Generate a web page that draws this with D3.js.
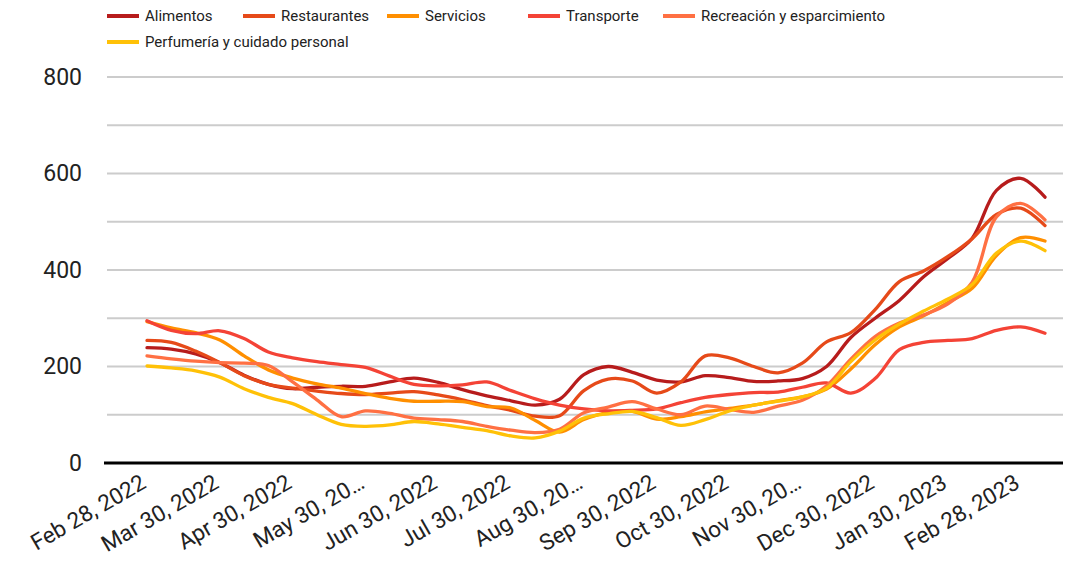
<!DOCTYPE html>
<html>
<head>
<meta charset="utf-8">
<script src="https://cdn.jsdelivr.net/npm/d3@7"></script>
<style>
  html, body { margin: 0; padding: 0; background: #fff; }
  svg { display: block; font-family: Roboto, "Noto Sans", sans-serif; }
</style>
</head>
<body>
<svg id="viz" width="1074" height="561"></svg>
<script>
// Data, three readings a month from Feb 28, 2022 to early Mar 2023
const tickLabels = ['Feb 28, 2022', 'Mar 30, 2022', 'Apr 30, 2022', 'May 30, 20…', 'Jun 30, 2022',
  'Jul 30, 2022', 'Aug 30, 20…', 'Sep 30, 2022', 'Oct 30, 2022', 'Nov 30, 20…', 'Dec 30, 2022',
  'Jan 30, 2023', 'Feb 28, 2023'];

const seriesNames = ['Alimentos', 'Restaurantes', 'Servicios', 'Transporte',
  'Recreación y esparcimiento', 'Perfumería y cuidado personal'];

const alimentos = [239, 236, 226, 208, 182, 163, 154, 157, 159, 159, 168, 176, 167, 152, 139, 129, 120, 132, 183,
  200, 188, 172, 168, 181, 177, 169, 170, 175, 200, 260, 300, 337, 386, 424, 466, 565, 590, 551];
const restaurantes = [254, 250, 232, 208, 181, 163, 155, 149, 144, 142, 145, 148, 141, 131, 119, 109, 97, 98, 150,
  174, 170, 145, 168, 222, 218, 200, 187, 207, 251, 270, 318, 376, 398, 428, 465, 515, 528, 492];
const servicios = [293, 280, 270, 255, 222, 193, 176, 164, 155, 144, 134, 128, 128, 127, 117, 114, 88, 64, 90,
  105, 107, 91, 96, 106, 113, 120, 129, 137, 153, 195, 245, 282, 305, 333, 362, 430, 467, 460];
const transporte = [295, 275, 268, 274, 258, 230, 218, 210, 204, 198, 180, 163, 160, 162, 168, 150, 133, 120, 112,
  108, 109, 112, 125, 136, 142, 146, 147, 157, 166, 145, 175, 235, 250, 254, 258, 275, 282, 269];
const recreacion = [222, 216, 211, 208, 207, 202, 168, 131, 96, 108, 103, 93, 90, 86, 76, 68, 63, 70, 104,
  116, 127, 112, 100, 118, 111, 105, 118, 130, 160, 215, 262, 290, 307, 330, 375, 510, 538, 504];
const perfumeria = [201, 197, 191, 178, 154, 136, 123, 100, 80, 76, 79, 86, 81, 74, 67, 56, 52, 66, 93,
  102, 107, 94, 78, 90, 108, 120, 128, 137, 155, 210, 255, 288, 315, 340, 370, 435, 460, 440];

const yTicks = [0, 200, 400, 600, 800];

(() => {
  const svg = d3.select('#viz');

  const colors = ['#b71c1c', '#e64a19', '#ff8f00', '#f44336', '#ff7043', '#ffc107'];
  const allSeries = [alimentos, restaurantes, servicios, transporte, recreacion, perfumeria];

  const left = 107;
  const right = 1063;

  const x = d3.scaleLinear().domain([0, alimentos.length - 1]).range([147, 1045]);
  const y = d3.scaleLinear().domain([0, 800]).range([463, 77]);

  // gridlines every 100
  svg.append('g')
    .selectAll('line')
    .data(d3.range(100, 801, 100))
    .join('line')
    .attr('x1', left)
    .attr('x2', right)
    .attr('y1', (d) => y(d))
    .attr('y2', (d) => y(d))
    .attr('stroke', '#cccccc')
    .attr('stroke-width', 2);

  // y axis labels
  const yAxis = svg.append('g')
    .attr('transform', `translate(${left},0)`)
    .call(d3.axisLeft(y).tickValues(yTicks).tickSize(0).tickPadding(25));
  yAxis.select('.domain').remove();
  yAxis.selectAll('text')
    .attr('font-size', 23)
    .attr('font-family', 'Roboto, sans-serif')
    .attr('fill', '#222');

  // x axis labels, rotated
  const tickIdx = tickLabels.map((d, i) => i * 3);
  const xAxis = svg.append('g')
    .attr('transform', `translate(0,${y(0)})`)
    .call(d3.axisBottom(x).tickValues(tickIdx).tickSize(0).tickFormat((d, i) => tickLabels[i]));
  xAxis.select('.domain').remove();
  xAxis.selectAll('text')
    .attr('y', 0)
    .attr('dy', 0)
    .attr('text-anchor', 'end')
    .attr('transform', 'translate(0,24) rotate(-30)')
    .attr('font-size', 22.5)
    .attr('font-family', 'Roboto, sans-serif')
    .attr('fill', '#222');

  // lines
  const line = d3.line()
    .x((d, i) => x(i))
    .y((d) => y(d))
    .curve(d3.curveCatmullRom.alpha(0.5));

  svg.append('g')
    .selectAll('path')
    .data(allSeries)
    .join('path')
    .attr('d', (d) => line(d))
    .attr('fill', 'none')
    .attr('stroke', (d, i) => colors[i])
    .attr('stroke-width', 3.3)
    .attr('stroke-linejoin', 'round')
    .attr('stroke-linecap', 'round');

  // baseline
  svg.append('line')
    .attr('x1', 104)
    .attr('x2', right)
    .attr('y1', y(0))
    .attr('y2', y(0))
    .attr('stroke', '#000')
    .attr('stroke-width', 3);

  // legend
  const legendPos = [[107, 16], [243, 16], [387, 16], [528, 16], [663, 16], [107, 42]];
  const legend = svg.append('g')
    .selectAll('g')
    .data(seriesNames)
    .join('g')
    .attr('transform', (d, i) => `translate(${legendPos[i][0]},${legendPos[i][1]})`);

  legend.append('rect')
    .attr('x', 0)
    .attr('y', -2)
    .attr('width', 32)
    .attr('height', 4)
    .attr('fill', (d, i) => colors[i]);

  legend.append('text')
    .attr('x', 38)
    .attr('y', 0)
    .attr('dy', '0.35em')
    .attr('font-size', 15)
    .attr('fill', '#222')
    .text((d) => d);
})();
</script>
</body>
</html>
